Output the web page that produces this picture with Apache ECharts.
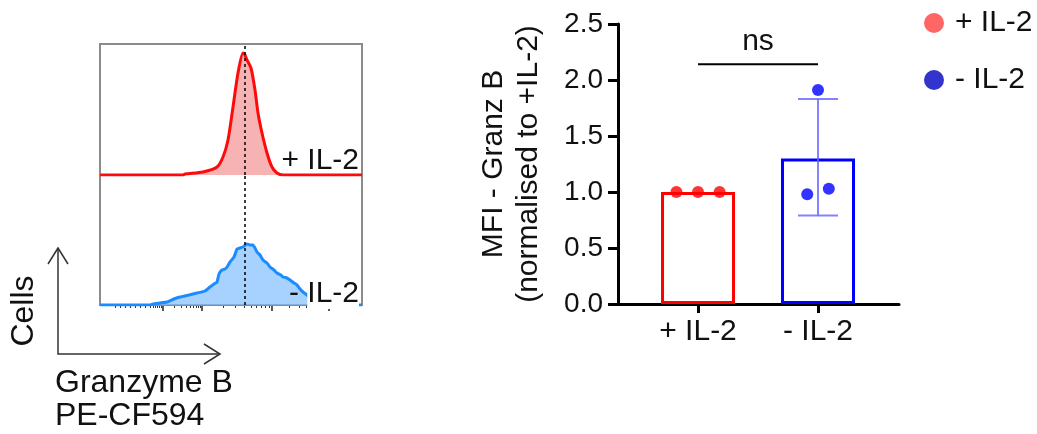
<!DOCTYPE html>
<html><head><meta charset="utf-8">
<script src="https://cdn.jsdelivr.net/npm/echarts@6/dist/echarts.min.js"></script>
<style>html,body{margin:0;padding:0;background:#fff}#c{width:1037px;height:434px}</style>
</head><body><div id="c"></div>
<script>
const FONT = '"Liberation Sans", Arial, Helvetica, sans-serif';

// ---- Flow histogram data (channel units vs cell counts) ----
const plusHistChannel  = [0,332,340,412,468,492,512,532,552,572,580,588,604,620,632,648,668,688,708,732,1048];
const plusHistCount    = [0,0,1,3,8,18,35,68,102,122,120,115,107,85,62,42,22,8,2,0,0];
const minusHistChannel = [0,200,212,240,268,296,320,356,388,420,440,456,468,476,488,500,508,520,536,548,560,572,588,600,612,628,640,652,668,680,696,708,724,732,748,760,776,788,800,812,828,840,860,880,900,920,948,1048];
const minusHistCount   = [0,0,1,2,3,6,8,10,12,14,18,21,23,31,35,36,38,43,48,56,57,58,61,60,60,53,50,45,42,38,35,32,30,28,27,25,22,20,16,13,10,7,5,3,2,2,0,0];
const gateChannel = 580;           // dashed reference line (median of +IL-2)
const histDecades = [252, 408, 688, 916];   // major tick positions (channel units)

// ---- Bar chart data ----
const categories   = ['+ IL-2', '- IL-2'];
const barMeans     = [1.0, 1.30];
const errLow       = [1.0, 0.79];
const errHigh      = [1.0, 1.83];
const plusPoints   = [1.0, 1.0, 1.0];
const plusJitter   = [-0.18, 0, 0.18];
const minusPoints  = [1.91, 0.98, 1.03];
const minusJitter  = [0, -0.09, 0.09];
const sigPair      = [0, 1];
const sigLevel     = 2.14;
const sigText      = 'ns';

// build tick arrays for the biexponential-like axis
const minorTicks = [];
for (let v = 60; v <= 200; v += 20) minorTicks.push(v);
for (let v = 212; v < 252; v += 8) minorTicks.push(v);
for (let d = 0; d < histDecades.length - 1; d++) {
  const a = histDecades[d], b = histDecades[d + 1];
  for (let k = 2; k <= 9; k++) minorTicks.push(a + (b - a) * Math.log10(k));
}

const zip = (xs, ys) => xs.map((x, i) => [x, ys[i]]);

const chart = echarts.init(document.getElementById('c'), null, {renderer: 'canvas'});

const option = {
  backgroundColor: '#fff',
  animation: false,
  textStyle: {fontFamily: FONT},
  grid: [
    {left: 100, top: 44, width: 262, height: 131},   // 0 hist top
    {left: 100, top: 175, width: 262, height: 130},  // 1 hist bottom
    {left: 100, top: 175, width: 262, height: 130},  // 2 hist minor ticks
    {left: 618, top: 24, width: 281, height: 280}    // 3 bar chart
  ],
  xAxis: [
    {gridIndex: 0, type: 'value', min: 0, max: 1048, show: false},
    {gridIndex: 1, type: 'value', min: 0, max: 1048,
      axisLine: {show: true, onZero: false, lineStyle: {color: '#222', width: 1.5}},
      axisTick: {show: true, customValues: histDecades, length: 6, lineStyle: {color: '#222', width: 1.5}},
      axisLabel: {show: false}, splitLine: {show: false}},
    {gridIndex: 2, type: 'value', min: 0, max: 1048,
      axisLine: {show: false, onZero: false},
      axisTick: {show: true, customValues: minorTicks, length: 3, lineStyle: {color: '#333', width: 1}},
      axisLabel: {show: false}, splitLine: {show: false}},
    {gridIndex: 3, type: 'value', min: -0.667, max: 1.675,
      axisLine: {show: true, onZero: false, lineStyle: {color: '#000', width: 3}},
      axisTick: {show: true, customValues: [0, 1], length: 9, lineStyle: {color: '#000', width: 3}},
      axisLabel: {show: true, customValues: [0, 1], formatter: v => categories[Math.round(v)],
        fontSize: 30, color: '#111', margin: 13, fontFamily: FONT},
      splitLine: {show: false}}
  ],
  yAxis: [
    {gridIndex: 0, type: 'value', min: 0, max: 131, show: false},
    {gridIndex: 1, type: 'value', min: 0, max: 130, show: false},
    {gridIndex: 2, type: 'value', min: 0, max: 130, show: false},
    {gridIndex: 3, type: 'value', min: 0, max: 2.5, interval: 0.5,
      axisLine: {show: true, onZero: false, lineStyle: {color: '#000', width: 3}},
      axisTick: {show: true, length: 10, lineStyle: {color: '#000', width: 3}},
      axisLabel: {fontSize: 28, color: '#111', margin: 15, formatter: v => v.toFixed(1), fontFamily: FONT},
      splitLine: {show: false},
      name: 'MFI - Granz B\n(normalised to +IL-2)',
      nameLocation: 'middle', nameRotate: 90, nameGap: 72,
      nameTextStyle: {fontSize: 30, color: '#111', lineHeight: 35, fontFamily: FONT}}
  ],
  legend: {
    orient: 'vertical', left: 924, top: 8, padding: 0, itemWidth: 20, itemHeight: 20, itemGap: 27,
    textStyle: {fontSize: 30, color: '#111', fontFamily: FONT, padding: [0, 0, 0, 6]},
    selectedMode: false,
    data: [
      {name: '+ IL-2', icon: 'circle', itemStyle: {color: '#ff4040'}},
      {name: '- IL-2', icon: 'circle', itemStyle: {color: '#0000c0'}}
    ]
  },
  series: [
    {type: 'line', name: 'hist+', xAxisIndex: 0, yAxisIndex: 0, data: zip(plusHistChannel, plusHistCount),
      showSymbol: false, smooth: 0.25, lineStyle: {color: '#ff0a0a', width: 3},
      areaStyle: {color: 'rgba(240,120,120,0.8)'}, z: 3,
      markLine: {silent: true, symbol: 'none', label: {show: false},
        lineStyle: {color: '#000', type: [3, 3], width: 1.5}, data: [{xAxis: gateChannel}]}},
    {type: 'line', name: 'hist-', xAxisIndex: 1, yAxisIndex: 1, data: zip(minusHistChannel, minusHistCount),
      showSymbol: false, smooth: 0.15, lineStyle: {color: '#1a8cff', width: 3},
      areaStyle: {color: 'rgba(130,190,255,1)'}, z: 3,
      markLine: {silent: true, symbol: 'none', label: {show: false},
        lineStyle: {color: '#000', type: [3, 3], width: 1.5}, data: [{xAxis: gateChannel}]}},
    {type: 'bar', name: 'bars', xAxisIndex: 3, yAxisIndex: 3, barWidth: 74, z: 2,
      data: barMeans.map((m, i) => ({value: [i, m],
        itemStyle: {color: 'rgba(255,255,255,0)', borderColor: i === 0 ? '#ff0000' : '#0000ff', borderWidth: 3}}))},
    {type: 'custom', name: 'err', xAxisIndex: 3, yAxisIndex: 3, z: 4,
      data: categories.map((c, i) => [i, errLow[i], errHigh[i]]),
      renderItem: (params, api) => {
        const x = api.value(0), lo = api.value(1), hi = api.value(2);
        if (hi - lo <= 0) return null;
        const p1 = api.coord([x, lo]), p2 = api.coord([x, hi]);
        const cw = 20;
        const st = {stroke: 'rgba(100,100,255,0.8)', lineWidth: 2};
        return {type: 'group', children: [
          {type: 'line', shape: {x1: p1[0], y1: p1[1], x2: p2[0], y2: p2[1]}, style: st},
          {type: 'line', shape: {x1: p1[0] - cw, y1: p1[1], x2: p1[0] + cw, y2: p1[1]}, style: st},
          {type: 'line', shape: {x1: p2[0] - cw, y1: p2[1], x2: p2[0] + cw, y2: p2[1]}, style: st}
        ]};
      }},
    {type: 'scatter', name: '+ IL-2', xAxisIndex: 3, yAxisIndex: 3, symbolSize: 12, z: 5,
      itemStyle: {color: '#ff0000'}, data: plusPoints.map((v, i) => [0 + plusJitter[i], v])},
    {type: 'scatter', name: '- IL-2', xAxisIndex: 3, yAxisIndex: 3, symbolSize: 12, z: 5,
      itemStyle: {color: '#0000ff'}, data: minusPoints.map((v, i) => [1 + minusJitter[i], v])},
    {type: 'custom', name: 'sig', xAxisIndex: 3, yAxisIndex: 3, z: 5,
      data: [[sigPair[0], sigPair[1], sigLevel]],
      renderItem: (params, api) => {
        const a = api.coord([api.value(0), api.value(2)]);
        const b = api.coord([api.value(1), api.value(2)]);
        return {type: 'group', children: [
          {type: 'line', shape: {x1: a[0], y1: a[1], x2: b[0], y2: b[1]}, style: {stroke: '#000', lineWidth: 2}},
          {type: 'text', x: (a[0] + b[0]) / 2, y: a[1] - 8,
            style: {text: sigText, fill: '#111', font: '30px ' + FONT, align: 'center', verticalAlign: 'bottom'}}
        ]};
      }}
  ],
  graphic: [
    {type: 'rect', z: 1, shape: {x: 100, y: 44, width: 262, height: 261},
      style: {fill: 'none', stroke: '#8c8c8c', lineWidth: 2}},
    {type: 'text', z: 10, x: 359, y: 161,
      style: {text: '+ IL-2', fill: '#111', font: '30px ' + FONT, align: 'right', verticalAlign: 'middle'}},
    {type: 'text', z: 10, x: 359, y: 294,
      style: {text: '{a|- }{b|IL-2}', align: 'right', verticalAlign: 'middle',
        rich: {a: {fontSize: 30, fontFamily: FONT, fill: '#111'},
               b: {fontSize: 30, fontFamily: FONT, fill: '#111', backgroundColor: '#fff'}}}},
    {type: 'polyline', z: 10, shape: {points: [[58, 248], [58, 354], [220, 354]]},
      style: {stroke: '#333', lineWidth: 1.5, fill: 'none'}},
    {type: 'polyline', z: 10, shape: {points: [[48, 264], [58, 248], [68, 264]]},
      style: {stroke: '#333', lineWidth: 1.5, fill: 'none'}},
    {type: 'polyline', z: 10, shape: {points: [[204, 344], [220, 354], [204, 364]]},
      style: {stroke: '#333', lineWidth: 1.5, fill: 'none'}},
    {type: 'text', z: 10, x: 24, y: 311, rotation: Math.PI / 2,
      style: {text: 'Cells', fill: '#111', font: '32px ' + FONT, align: 'center', verticalAlign: 'middle'}},
    {type: 'text', z: 10, x: 55, y: 383,
      style: {text: 'Granzyme B', fill: '#111', font: '32px ' + FONT, align: 'left', verticalAlign: 'middle'}},
    {type: 'text', z: 10, x: 55, y: 416,
      style: {text: 'PE-CF594', fill: '#111', font: '32px ' + FONT, align: 'left', verticalAlign: 'middle'}}
  ]
};
chart.setOption(option);
</script>
</body></html>
